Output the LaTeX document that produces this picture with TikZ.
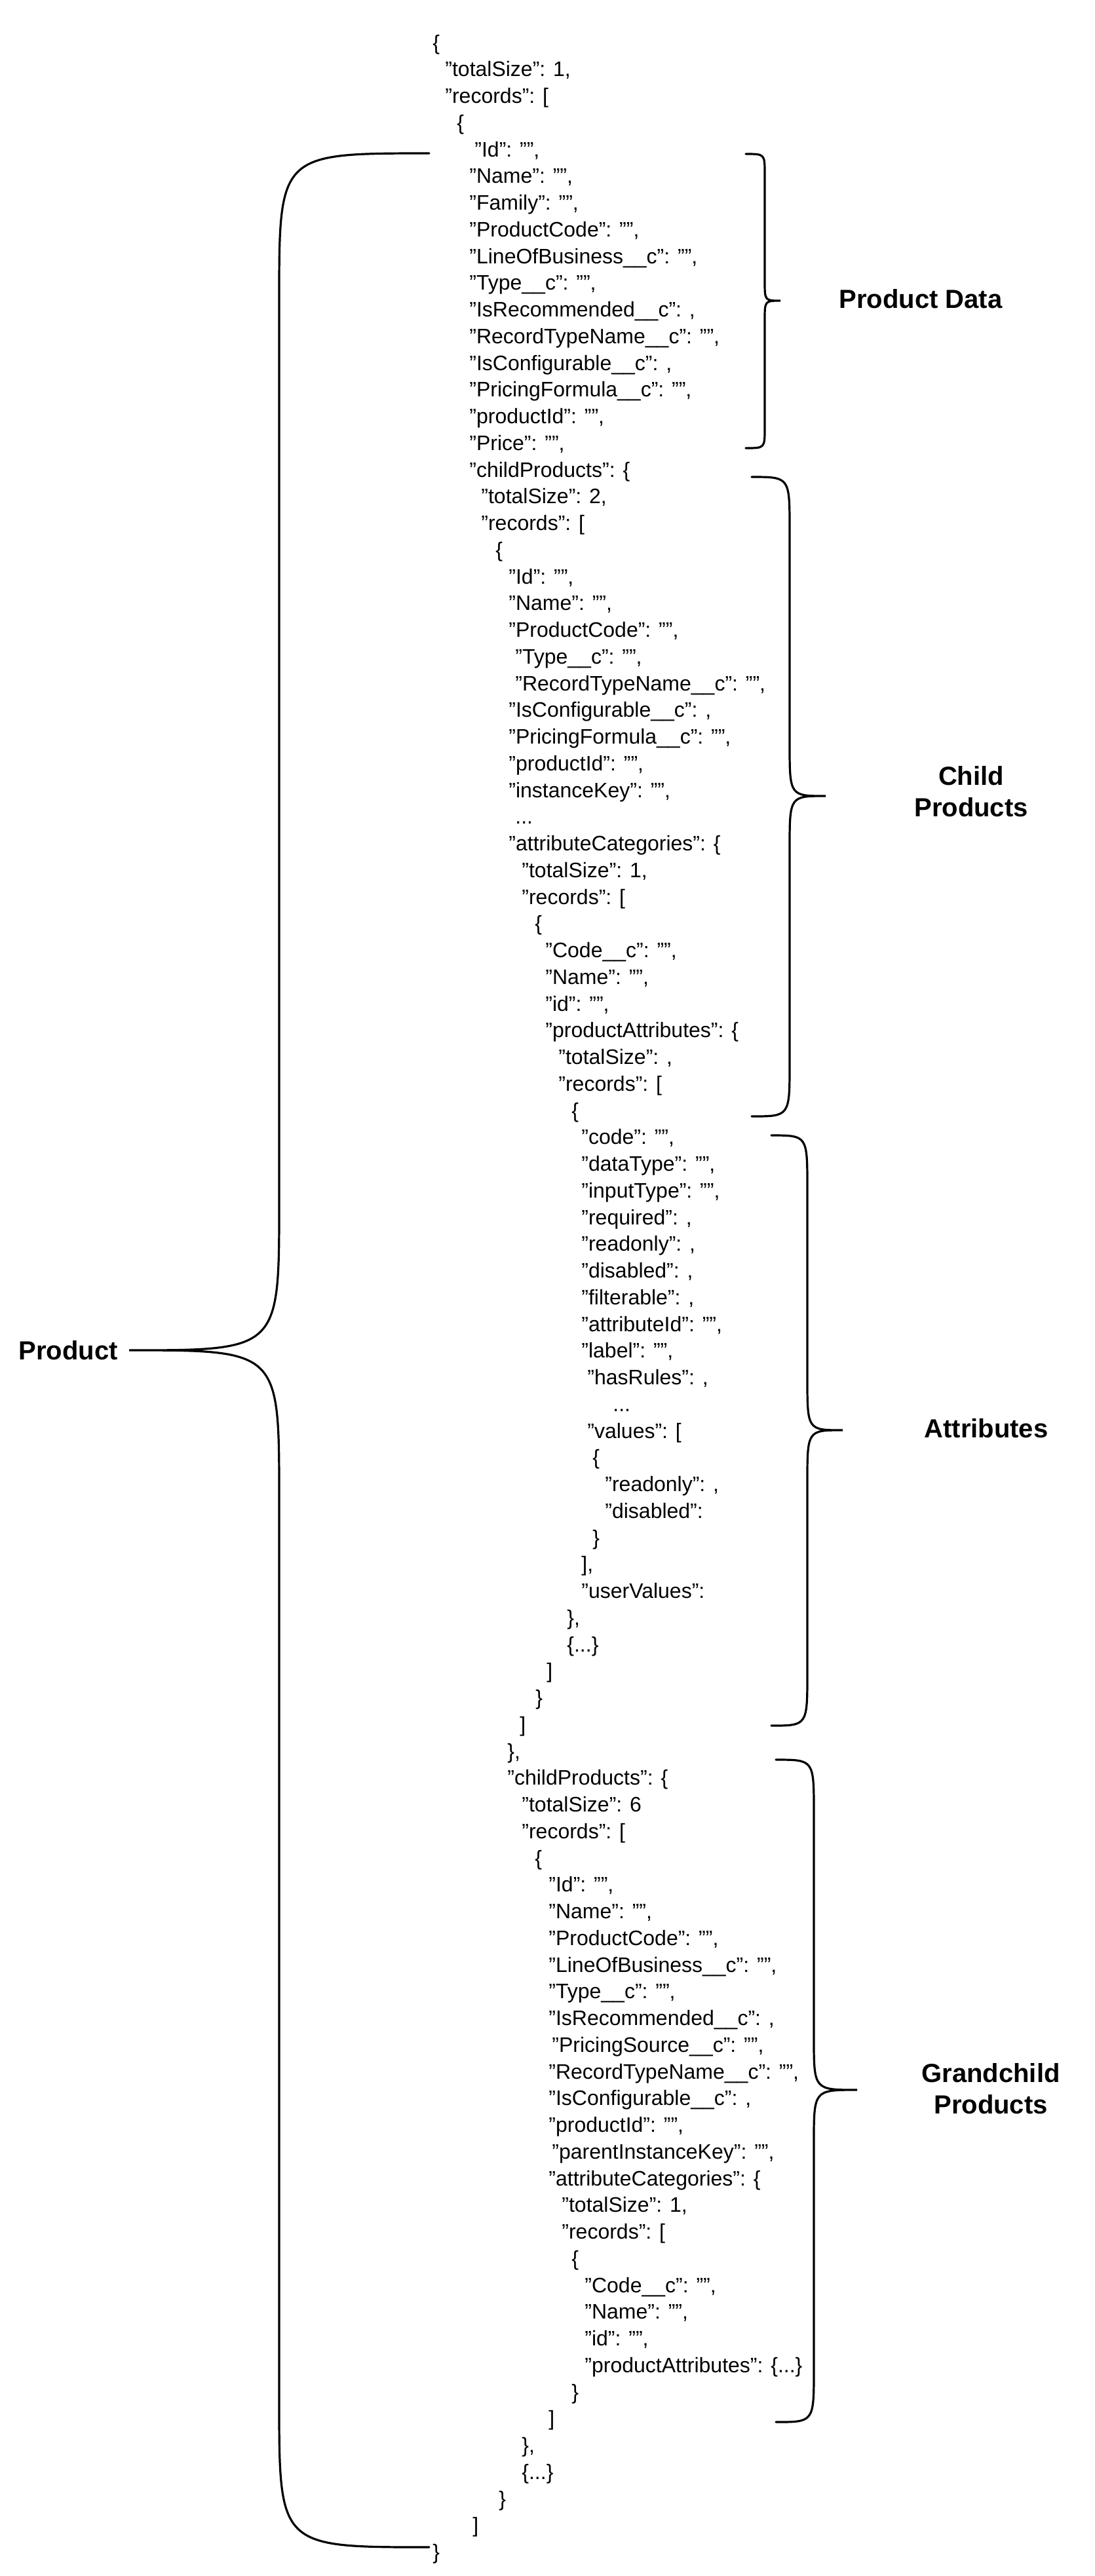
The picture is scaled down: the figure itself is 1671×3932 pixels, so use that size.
\documentclass[tikz,border=0pt]{standalone}
\usepackage{fontspec}
\setmainfont{Liberation Sans}
\usepackage{tikz}
\usetikzlibrary{positioning}

\tikzset{
  jsonline/.style={anchor=west, inner sep=0pt, font=\fontsize{16}{19}\selectfont, text height=12pt, text depth=4pt},
  grouplabel/.style={font=\fontsize{20}{24}\selectfont\bfseries, align=center},
  brace/.style={line width=1.6pt, line cap=round}
}

\begin{document}
\begin{tikzpicture}[x=0.5pt,y=-0.5pt]
    \useasboundingbox (0,0) rectangle (1671,3932);

    % JSON lines
    \foreach \n/\x/\t in {
      1/660/{\{}, 2/679/{"totalSize": 1,}, 3/679/{"records": [}, 4/697/{\{},
      5/724/{"Id": "",}, 6/716/{"Name": "",}, 7/716/{"Family": "",}, 8/716/{"ProductCode": "",},
      9/716/{"LineOfBusiness\_\_c": "",}, 10/716/{"Type\_\_c": "",}, 11/716/{"IsRecommended\_\_c": ,},
      12/716/{"RecordTypeName\_\_c": "",}, 13/716/{"IsConfigurable\_\_c": ,}, 14/716/{"PricingFormula\_\_c": "",},
      15/716/{"productId": "",}, 16/716/{"Price": "",}, 17/716/{"childProducts": \{},
      18/734/{"totalSize": 2,}, 19/734/{"records": [}, 20/756/{\{},
      21/776/{"Id": "",}, 22/776/{"Name": "",}, 23/776/{"ProductCode": "",}, 24/786/{"Type\_\_c": "",},
      25/786/{"RecordTypeName\_\_c": "",}, 26/776/{"IsConfigurable\_\_c": ,}, 27/776/{"PricingFormula\_\_c": "",},
      28/776/{"productId": "",}, 29/776/{"instanceKey": "",}, 30/786/{...},
      31/776/{"attributeCategories": \{}, 32/796/{"totalSize": 1,}, 33/796/{"records": [}, 34/816/{\{},
      35/832/{"Code\_\_c": "",}, 36/832/{"Name": "",}, 37/832/{"id": "",}, 38/832/{"productAttributes": \{},
      39/852/{"totalSize": ,}, 40/852/{"records": [}, 41/872/{\{},
      42/887/{"code": "",}, 43/887/{"dataType": "",}, 44/887/{"inputType": "",}, 45/887/{"required": ,},
      46/887/{"readonly": ,}, 47/887/{"disabled": ,}, 48/887/{"filterable": ,}, 49/887/{"attributeId": "",},
      50/887/{"label": "",}, 51/896/{"hasRules": ,}, 52/935/{...}, 53/896/{"values": [}, 54/904/{\{},
      55/923/{"readonly": ,}, 56/923/{"disabled":}, 57/904/{\}}, 58/887/{],}, 59/887/{"userValues":},
      60/865/{\},}, 61/865/{\{...\}}, 62/834/{]}, 63/817/{\}}, 64/793/{]}, 65/774/{\},},
      66/774/{"childProducts": \{}, 67/796/{"totalSize": 6}, 68/796/{"records": [}, 69/816/{\{},
      70/837/{"Id": "",}, 71/837/{"Name": "",}, 72/837/{"ProductCode": "",}, 73/837/{"LineOfBusiness\_\_c": "",},
      74/837/{"Type\_\_c": "",}, 75/837/{"IsRecommended\_\_c": ,}, 76/842/{"PricingSource\_\_c": "",},
      77/837/{"RecordTypeName\_\_c": "",}, 78/837/{"IsConfigurable\_\_c": ,}, 79/837/{"productId": "",},
      80/842/{"parentInstanceKey": "",}, 81/837/{"attributeCategories": \{}, 82/857/{"totalSize": 1,},
      83/857/{"records": [}, 84/872/{\{}, 85/892/{"Code\_\_c": "",}, 86/892/{"Name": "",}, 87/892/{"id": "",},
      88/892/{"productAttributes": \{...\}}, 89/872/{\}}, 90/837/{]}, 91/796/{\},}, 92/796/{\{...\}},
      93/761/{\}}, 94/721/{]}, 95/660/{\}}}
      \node[jsonline] (l\n) at (\x,{68+(\n-1)*40.75}) {\t};

    % Product brace
    \draw[brace] (655,234) .. controls (426,234) .. (426,459) -- (426,1836) .. controls (426,2061) .. (197,2061)
        .. controls (426,2061) .. (426,2286) -- (426,3663) .. controls (426,3888) .. (655,3888);
    \node[grouplabel] (productLbl) at (104,2061) {Product};

    % Product Data brace
    \draw[brace] (1138,235) .. controls (1167,235) .. (1167,265) -- (1167,429) .. controls (1167,459) .. (1191,459)
        .. controls (1167,459) .. (1167,489) -- (1167,654) .. controls (1167,684) .. (1138,684);
    \node[grouplabel] (dataLbl) at (1405,456) {Product Data};

    % Child Products brace
    \draw[brace] (1147,728) .. controls (1205,728) .. (1205,808) -- (1205,1135) .. controls (1205,1215) .. (1260,1215)
        .. controls (1205,1215) .. (1205,1295) -- (1205,1624) .. controls (1205,1704) .. (1147,1704);
    \node[grouplabel] (childLbl) at (1482,1208) {Child\\Products};

    % Attributes brace
    \draw[brace] (1177,1733) .. controls (1232,1733) .. (1232,1813) -- (1232,2103) .. controls (1232,2183) .. (1286,2183)
        .. controls (1232,2183) .. (1232,2263) -- (1232,2554) .. controls (1232,2634) .. (1177,2634);
    \node[grouplabel] (attrLbl) at (1505,2180) {Attributes};

    % Grandchild Products brace
    \draw[brace] (1184,2686) .. controls (1242,2686) .. (1242,2766) -- (1242,3110) .. controls (1242,3190) .. (1308,3190)
        .. controls (1242,3190) .. (1242,3270) -- (1242,3617) .. controls (1242,3697) .. (1184,3697);
    \node[grouplabel] (grandLbl) at (1512,3188) {Grandchild\\Products};
\end{tikzpicture}
\end{document}
